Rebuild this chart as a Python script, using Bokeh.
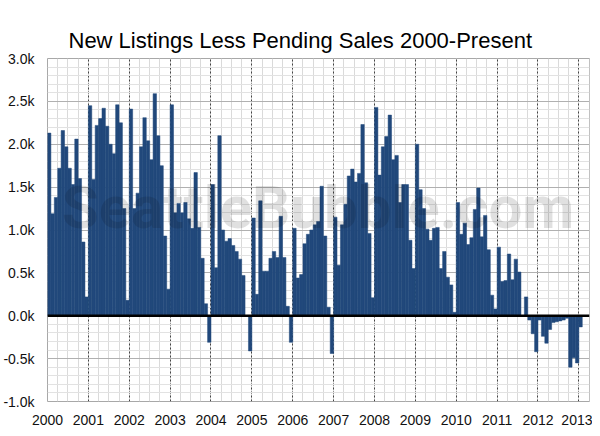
from bokeh.plotting import figure
from bokeh.models import SingleIntervalTicker, Span, Label, PrintfTickFormatter, ColumnDataSource
from bokeh.embed import file_html
from bokeh.resources import INLINE

# Monthly values (thousands): new listings minus pending sales
v2000 = [2.13, 1.19, 1.38, 1.72, 2.16, 1.97, 1.72, 1.53, 2.06, 1.60, 0.86, 0.22]
v2001 = [2.45, 1.59, 2.22, 2.30, 2.42, 2.21, 2.00, 1.89, 2.46, 2.25, 1.25, 0.18]
v2002 = [2.41, 1.25, 1.43, 1.97, 2.31, 2.04, 1.82, 2.59, 2.10, 1.75, 0.93, 0.31]
v2003 = [2.46, 1.20, 1.31, 1.20, 1.32, 1.13, 1.02, 1.67, 1.03, 0.67, 0.14, -0.31]
v2004 = [1.53, 0.56, 2.10, 1.00, 0.87, 0.90, 0.82, 0.75, 0.66, 0.47, 0.00, -0.41]
v2005 = [1.14, 0.25, 1.34, 0.52, 0.52, 0.67, 0.75, 0.68, 1.16, 0.68, 0.11, -0.31]
v2006 = [1.02, 0.44, 0.48, 0.84, 0.95, 1.00, 1.06, 1.10, 1.51, 0.93, 0.10, -0.44]
v2007 = [1.15, 0.59, 1.06, 1.30, 1.63, 1.71, 1.56, 1.66, 2.23, 1.55, 0.96, 0.21]
v2008 = [2.43, 1.64, 1.97, 2.09, 2.34, 1.82, 1.87, 1.32, 1.53, 1.53, 0.88, 0.55]
v2009 = [2.00, 1.47, 1.25, 1.01, 0.88, 1.02, 1.03, 0.55, 0.75, 0.45, 0.36, 0.04]
v2010 = [1.32, 0.95, 1.08, 0.83, 0.91, 1.24, 1.49, 0.92, 1.17, 0.77, 0.24, 0.08]
v2011 = [0.80, 0.40, 0.41, 0.72, 0.42, 0.66, 0.51, 0.00, 0.22, -0.05, -0.21, -0.42]
v2012 = [-0.05, -0.24, -0.32, -0.16, -0.08, -0.07, -0.06, -0.05, -0.03, -0.60, -0.49, -0.55]
v2013 = [-0.13]

years = list(range(2000, 2014))
series = [v2000, v2001, v2002, v2003, v2004, v2005, v2006, v2007,
          v2008, v2009, v2010, v2011, v2012, v2013]

title_text = "New Listings Less Pending Sales 2000-Present"
watermark_text = "SeattleBubble.com"

xs, vals = [], []
for yr, vv in zip(years, series):
    for m, v in enumerate(vv):
        xs.append(yr + (m + 0.5) / 12.0)
        vals.append(v)

src = ColumnDataSource(dict(x=xs, v=vals))

FONT = "Liberation Sans"

W, H = 592, 428
X0, X1 = 2000.0, 2013.26
Y0, Y1 = -1.0, 3.0
ML, MR, MT, MB = 46, 3, 58, 27

p = figure(width=W, height=H, x_range=(X0, X1), y_range=(Y0, Y1),
           output_backend="svg", toolbar_location=None,
           min_border_left=ML, min_border_right=MR,
           min_border_top=MT, min_border_bottom=MB)
p.background_fill_color = "white"
p.border_fill_color = "white"
p.outline_line_color = "#a8a8a8"

p.title.text = title_text
p.title.align = "left"
p.title.offset = 21
p.title.standoff = 11
p.title.text_font = FONT
p.title.text_font_size = "22px"
p.title.text_font_style = "normal"
p.title.text_color = "black"

xt = SingleIntervalTicker(interval=1, num_minor_ticks=4)
yt = SingleIntervalTicker(interval=0.5, num_minor_ticks=5)
p.xaxis.ticker = xt
p.yaxis.ticker = yt
p.xgrid.ticker = xt
p.ygrid.ticker = yt

p.xaxis.formatter = PrintfTickFormatter(format="%d")
p.yaxis.formatter = PrintfTickFormatter(format="%.1fk")

for ax in (p.xaxis, p.yaxis):
    ax.axis_line_color = None
    ax.major_tick_line_color = None
    ax.minor_tick_line_color = None
    ax.major_label_text_font = FONT
    ax.major_label_text_font_size = "14px"
    ax.major_label_text_color = "#111111"
    ax.major_label_standoff = 7

p.xgrid.grid_line_color = "#444444"
p.xgrid.grid_line_dash = "2 2"
p.xgrid.grid_line_width = 1
p.xgrid.minor_grid_line_color = "#dadada"
p.ygrid.grid_line_color = "#b0b0b0"
p.ygrid.minor_grid_line_color = "#e2e2e2"

p.vbar(x="x", top="v", width=1 / 12.0, source=src,
       fill_color="#21487b", line_color="#21487b", line_width=0.5)

p.add_layout(Span(location=0, dimension="width", line_color="black", line_width=2.5))

# place watermark by pixel position inside the frame
fw = W - ML - MR
fh = H - MT - MB
def dx(px):
    return X0 + (px - ML) / fw * (X1 - X0)
def dy(py):
    return Y1 - (py - MT) / fh * (Y1 - Y0)

p.add_layout(Label(x=dx(317), y=dy(207), text=watermark_text,
                   text_font="Roboto", text_font_style="bold",
                   text_font_size="60px", text_color="black", text_alpha=0.12,
                   text_align="center", text_baseline="middle"))

open("out.html", "w").write(file_html(p, INLINE))
